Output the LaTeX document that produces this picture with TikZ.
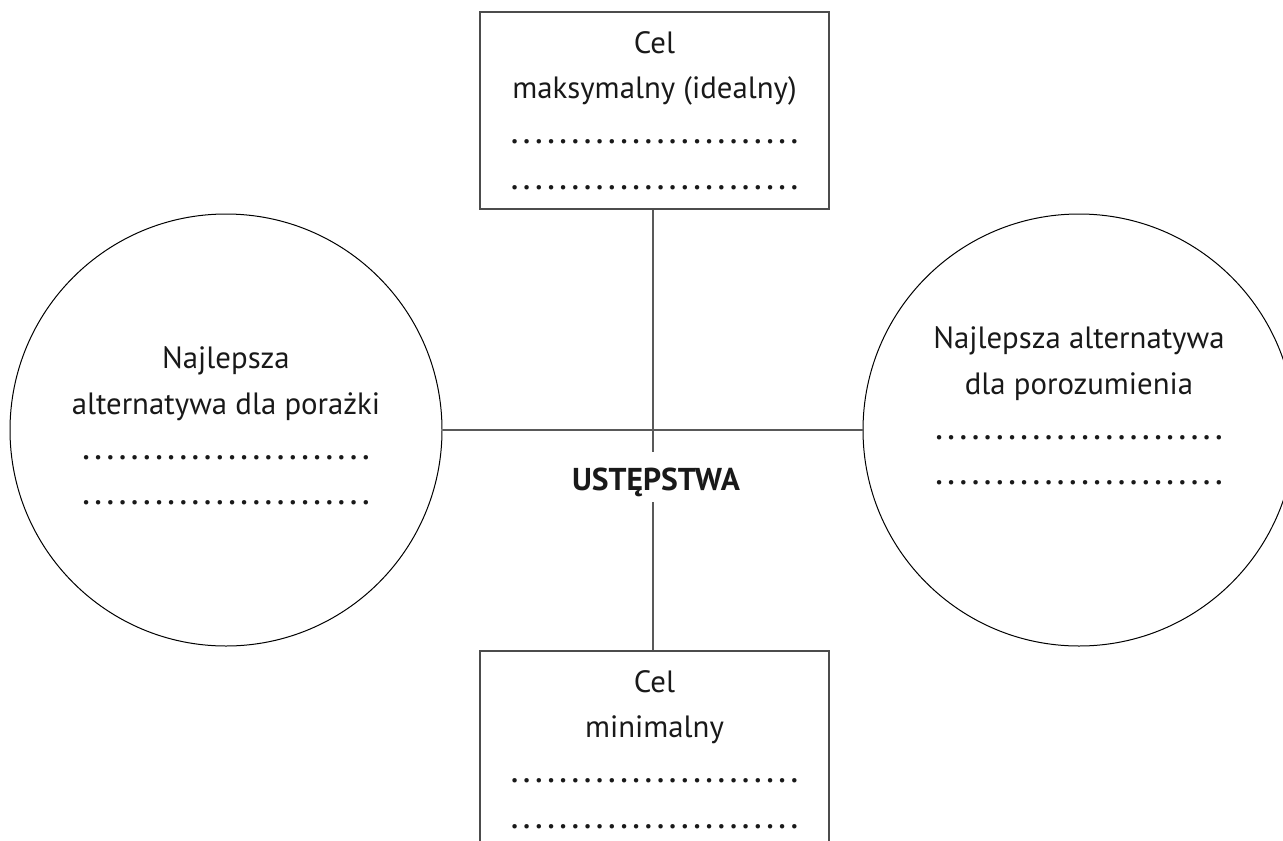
\documentclass[tikz,border=0pt]{standalone}
\usepackage{fontspec}
\setmainfont{PT Sans}
\usetikzlibrary{positioning}
% dotted line for filling in
\newcommand{\kropki}{\hbox to 146pt{\fontsize{19}{19}\selectfont\xleaders\hbox to 6.08pt{\hss.\hss}\hfill}}

\begin{document}
\begin{tikzpicture}[x=0.5pt,y=-0.5pt,
    tekst/.style={align=center,font=\fontsize{15.4}{22.6}\selectfont,text=black!90},
    ramka/.style={draw=black!70,line width=0.6pt,minimum width=174.5pt,minimum height=98.5pt,inner sep=0pt},
    kolo/.style={draw=black,line width=0.5pt,circle,minimum size=216pt,inner sep=0pt},
    linia/.style={draw=black!65,line width=0.7pt}]
  \useasboundingbox (0,0) rectangle (1283,840);
  % boxes
  \node[ramka,tekst] (maks) at (654.5,110.5) {Cel\\maksymalny (idealny)\\\kropki\\\kropki};
  \node[ramka,tekst] (mini) at (654.5,749.5) {Cel\\minimalny\\\kropki\\\kropki};
  % circles
  \node[kolo] (lewy) at (226,430) {};
  \node[tekst] (lewyTekst) at ([yshift=2pt]lewy) {Najlepsza\\alternatywa dla porażki\\\kropki\\\kropki};
  \node[kolo] (prawy) at (1079,430) {};
  \node[tekst] (prawyTekst) at ([yshift=12pt]prawy) {Najlepsza alternatywa\\dla porozumienia\\\kropki\\\kropki};
  % centre
  \node[tekst,font=\fontsize{15.8}{17}\selectfont\bfseries,inner sep=0pt,text height=19pt,text depth=6pt,anchor=base] (haslo) at (656,490) {USTĘPSTWA};
  \draw[linia] (lewy) -- (prawy);
  \draw[linia] (maks.south -| 653,0) -- (haslo.north -| 653,0);
  \draw[linia] (haslo.south -| 653,0) -- (mini.north -| 653,0);
\end{tikzpicture}
\end{document}
